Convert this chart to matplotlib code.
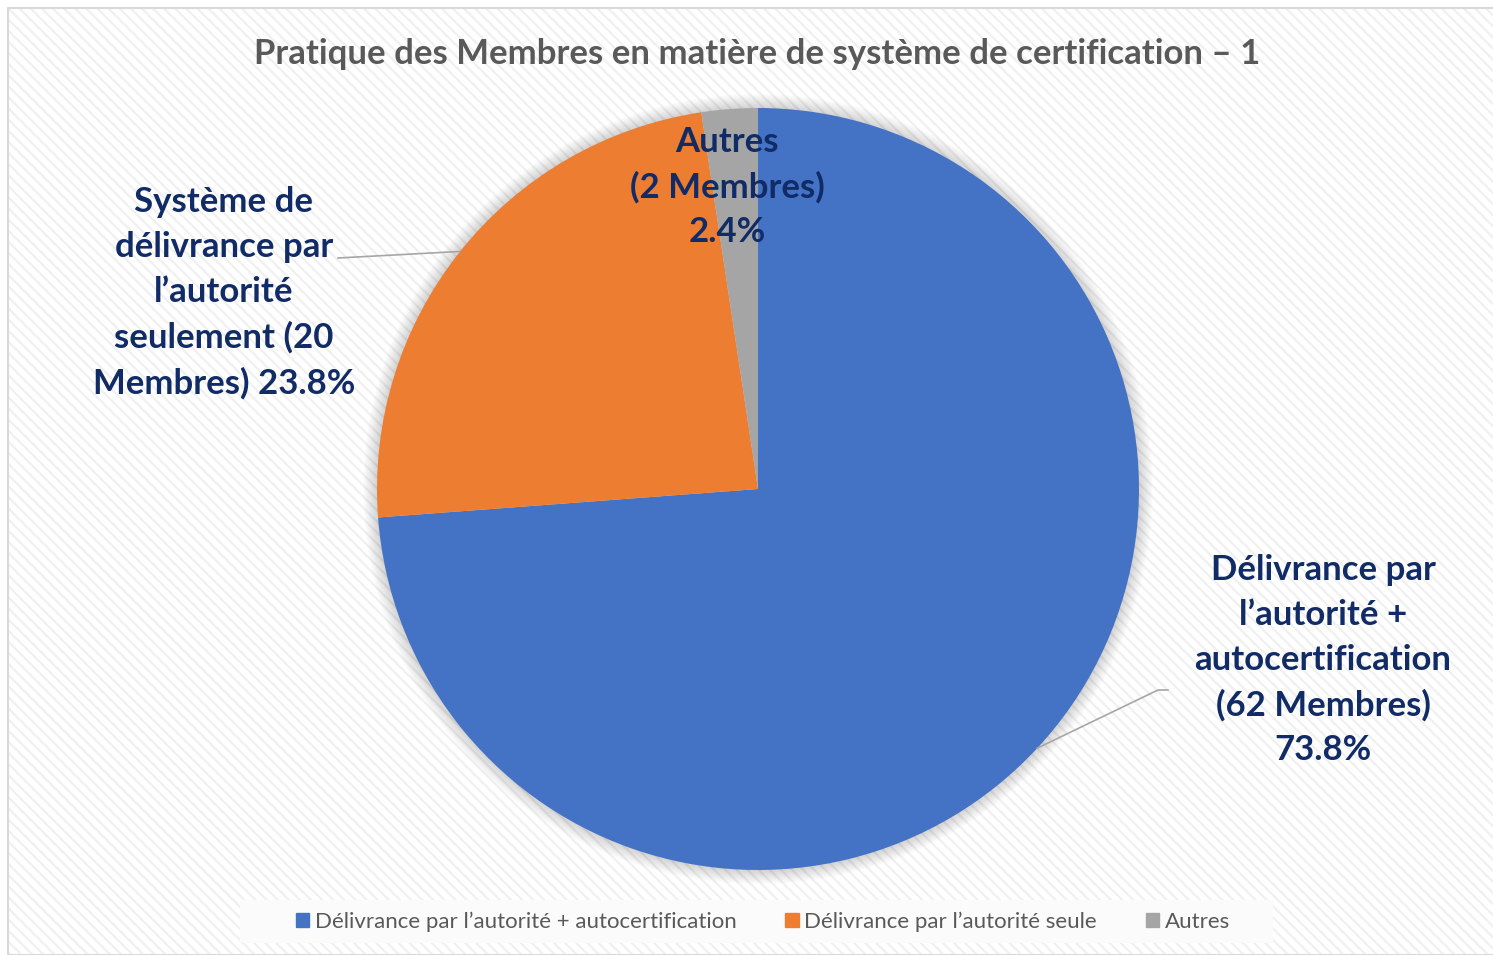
import numpy as np
import matplotlib
matplotlib.use("Agg")
import matplotlib.pyplot as plt
import matplotlib.patches as mpatches

# ----- data -------------------------------------------------------------------
TITLE = "Pratique des Membres en matière de système de certification – 1"
CATEGORIES = [
    "Délivrance par l’autorité + autocertification",
    "Délivrance par l’autorité seule",
    "Autres",
]
MEMBERS = [62, 20, 2]
SLICE_TEXT = [
    "Délivrance par\nl’autorité +\nautocertification\n({n} Membres)\n{p}",
    "Système de\ndélivrance par\nl’autorité\nseulement ({n}\nMembres) {p}",
    "Autres\n({n} Membres)\n{p}",
]

# ----- style ------------------------------------------------------------------
COLORS = ["#4472C4", "#ED7D31", "#A5A5A5"]
LABEL_COLOR = "#102b66"
TITLE_COLOR = "#595959"
LEADER_COLOR = "#a6a6a6"
FONT = ["Lato", "DejaVu Sans"]

W, H = 1493, 955
CX, CY, R = 758, H - 489, 381

# label centres (pixel coords, y from top) and leader anchor on label side
LABEL_POS = [(1323, 660), (224, 293), (727, 187)]
LEADER_FROM = [[(1168, 690), (1158, 690)], [(338, 258)], None]

plt.rcParams["font.family"] = FONT
plt.rcParams["hatch.linewidth"] = 1.6

fig = plt.figure(figsize=(W / 100, H / 100), dpi=100, facecolor="white")
ax = fig.add_axes([0, 0, 1, 1])

# hatched chart area + border
ax.add_patch(mpatches.Rectangle((8, 0), W, H - 8, facecolor="white",
                                edgecolor="#f0f0f0", linewidth=0,
                                hatch="\\\\\\", zorder=0))
ax.add_patch(mpatches.Rectangle((8, 0), W, H - 8, fill=False,
                                edgecolor="#d9d9d9", linewidth=1.5, zorder=1))

# soft shadow round the pie
for i in range(14):
    ax.add_patch(mpatches.Circle((CX, CY), R + 14 - i, facecolor="black",
                                 edgecolor="none", alpha=0.012, zorder=2))

wedges, _ = ax.pie(MEMBERS, colors=COLORS, startangle=90, counterclock=False,
                   center=(CX, CY), radius=R,
                   wedgeprops=dict(linewidth=0, zorder=3))
for w in wedges:
    w.set_zorder(3)

total = sum(MEMBERS)
for i, (w, n) in enumerate(zip(wedges, MEMBERS)):
    p = f"{n / total * 100:.1f}%"
    txt = SLICE_TEXT[i].format(n=n, p=p)
    lx, ly = LABEL_POS[i]
    ax.text(lx, H - ly, txt, ha="center", va="center", fontsize=25,
            fontweight="bold", color=LABEL_COLOR, linespacing=1.5, zorder=6)
    if LEADER_FROM[i]:
        mid = np.deg2rad((w.theta1 + w.theta2) / 2)
        ex, ey = CX + R * np.cos(mid), CY + R * np.sin(mid)
        xs = [x for x, _ in LEADER_FROM[i]] + [ex]
        ys = [H - y for _, y in LEADER_FROM[i]] + [ey]
        ax.plot(xs, ys, color=LEADER_COLOR, linewidth=1.2, zorder=5)

ax.text(757, H - 54, TITLE, ha="center", va="center", fontsize=25,
        fontweight="bold", color=TITLE_COLOR, zorder=6)

# legend
ax.add_patch(mpatches.Rectangle((240, H - 943), 1033, 43, facecolor="#fbfbfb",
                                edgecolor="none", zorder=4))
handles = [mpatches.Patch(color=c) for c in COLORS]
leg = ax.legend(handles, CATEGORIES, loc="center", ncol=3,
                bbox_to_anchor=(763 / W, 1 - 922 / H), frameon=False,
                handlelength=0.6, handleheight=0.6,
                handletextpad=0.25, columnspacing=2.2,
                prop=dict(family=FONT, size=16))
for t in leg.get_texts():
    t.set_color(TITLE_COLOR)
leg.set_zorder(7)

ax.set_xlim(0, W)
ax.set_ylim(0, H)
ax.set_aspect("auto")
ax.axis("off")

fig.savefig("out.png", dpi=100, facecolor="white")
